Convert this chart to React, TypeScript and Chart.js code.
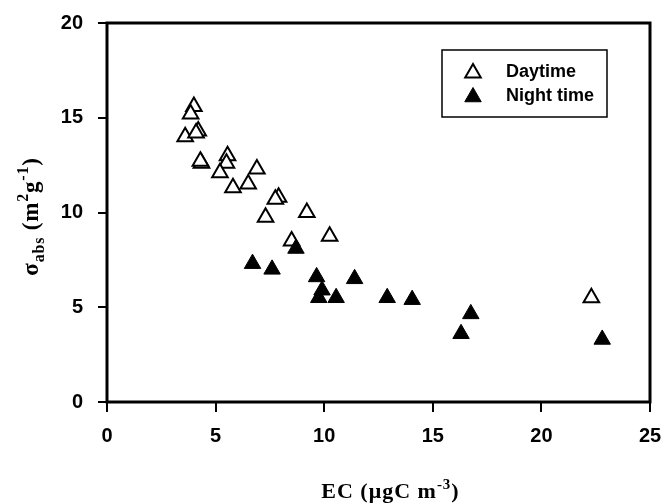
import React, { useEffect, useRef } from 'react';
import { Chart, registerables } from 'chart.js';

Chart.register(...registerables);

// Daytime (open triangles)
const dayEC = [4.0, 3.85, 3.6, 4.2, 4.1, 4.35, 4.3, 5.55, 5.5, 5.2, 6.9, 6.5, 5.8, 7.9, 7.75, 7.3, 9.2, 10.25, 8.5, 22.3];
const dayAbs = [15.6, 15.2, 14.0, 14.3, 14.2, 12.6, 12.7, 13.0, 12.6, 12.1, 12.3, 11.5, 11.3, 10.8, 10.7, 9.75, 10.0, 8.75, 8.5, 5.5];
// Night time (filled triangles)
const nightEC = [6.7, 7.6, 8.7, 9.65, 11.4, 9.9, 9.75, 10.55, 12.9, 14.05, 16.75, 16.3, 22.8];
const nightAbs = [7.3, 7.0, 8.1, 6.6, 6.5, 5.9, 5.5, 5.5, 5.5, 5.4, 4.65, 3.6, 3.3];

const xTicks = [0, 5, 10, 15, 20, 25];
const yTicks = [0, 5, 10, 15, 20];
const legendLabels = ['Daytime', 'Night time'];

type Seg = { t: string; k?: 'sub' | 'sup' };
const xTitle: Seg[] = [{ t: 'EC (μgC m' }, { t: '-3', k: 'sup' }, { t: ')' }];
const yTitle: Seg[] = [{ t: 'σ' }, { t: 'abs', k: 'sub' }, { t: ' (m' }, { t: '2', k: 'sup' }, { t: 'g' }, { t: '-1', k: 'sup' }, { t: ')' }];

const SERIF = '"Liberation Serif", "Times New Roman", serif';
const SANS = '"Liberation Sans", Arial, sans-serif';

function drawRich(ctx: CanvasRenderingContext2D, segs: Seg[], cx: number, baseY: number, size: number, spacing: number) {
  const fontFor = (s: Seg) => `bold ${s.k ? Math.round(size * 0.68) : size}px ${SERIF}`;
  (ctx as any).letterSpacing = `${spacing}px`;
  let total = 0;
  const widths = segs.map((s) => {
    ctx.font = fontFor(s);
    const w = ctx.measureText(s.t).width;
    total += w;
    return w;
  });
  let x = cx - total / 2;
  ctx.textAlign = 'left';
  ctx.textBaseline = 'alphabetic';
  segs.forEach((s, i) => {
    ctx.font = fontFor(s);
    const dy = s.k === 'sub' ? size * 0.28 : s.k === 'sup' ? -size * 0.42 : 0;
    ctx.fillText(s.t, x, baseY + dy);
    x += widths[i];
  });
  (ctx as any).letterSpacing = '0px';
}

function triangle(ctx: CanvasRenderingContext2D, x: number, y: number, r: number) {
  ctx.beginPath();
  for (let i = 0; i < 3; i++) {
    const a = (i * 2 * Math.PI) / 3;
    const px = x + Math.sin(a) * r;
    const py = y - Math.cos(a) * r;
    if (i === 0) ctx.moveTo(px, py);
    else ctx.lineTo(px, py);
  }
  ctx.closePath();
}

const decorPlugin = {
  id: 'decor',
  afterDraw(chart: any) {
    const ctx: CanvasRenderingContext2D = chart.ctx;
    const a = chart.chartArea;
    ctx.save();
    // frame
    ctx.strokeStyle = '#000';
    ctx.lineWidth = 3;
    ctx.strokeRect(a.left, a.top, a.right - a.left, a.bottom - a.top);

    // axis titles
    ctx.fillStyle = '#000';
    drawRich(ctx, xTitle, (a.left + a.right) / 2 + 12, 498, 22, 1);
    ctx.save();
    ctx.translate(38, (a.top + a.bottom) / 2 + 4);
    ctx.rotate(-Math.PI / 2);
    drawRich(ctx, yTitle, 0, 0, 23, 0.8);
    ctx.restore();

    // legend
    const lx = a.left + 335;
    const ly = a.top + 27;
    ctx.lineWidth = 1.5;
    ctx.strokeRect(lx, ly, 165, 67);
    const rows = [ly + 22, ly + 46];
    triangle(ctx, lx + 31, rows[0] + 1, 9);
    ctx.fillStyle = '#fff';
    ctx.fill();
    ctx.lineWidth = 2;
    ctx.strokeStyle = '#000';
    ctx.stroke();
    triangle(ctx, lx + 31, rows[1] + 1, 9.5);
    ctx.fillStyle = '#000';
    ctx.fill();
    ctx.lineWidth = 1;
    ctx.stroke();
    ctx.font = `bold 18px ${SANS}`;
    ctx.textAlign = 'left';
    ctx.textBaseline = 'middle';
    ctx.fillText(legendLabels[0], lx + 64, rows[0]);
    ctx.fillText(legendLabels[1], lx + 64, rows[1]);
    ctx.restore();
  },
};

export default function App() {
  const ref = useRef<HTMLCanvasElement | null>(null);
  useEffect(() => {
    document.body.style.margin = '0';
    const canvas = ref.current;
    if (!canvas) return;
    const chart = new Chart(canvas, {
      type: 'scatter',
      data: {
        datasets: [
          {
            label: legendLabels[1],
            data: nightEC.map((x, i) => ({ x, y: nightAbs[i] })),
            pointStyle: 'triangle',
            pointRadius: 9.5,
            pointBackgroundColor: '#000',
            pointBorderColor: '#000',
            pointBorderWidth: 1,
            order: 0,
          },
          {
            label: legendLabels[0],
            data: dayEC.map((x, i) => ({ x, y: dayAbs[i] })),
            pointStyle: 'triangle',
            pointRadius: 9,
            pointBackgroundColor: '#fff',
            pointBorderColor: '#000',
            pointBorderWidth: 2,
            order: 1,
          },
        ],
      },
      options: {
        responsive: false,
        animation: false,
        devicePixelRatio: 1,
        layout: { padding: { top: 23, right: 14, left: 0, bottom: 0 } },
        plugins: { legend: { display: false }, tooltip: { enabled: false } },
        scales: {
          x: {
            type: 'linear',
            min: xTicks[0],
            max: xTicks[xTicks.length - 1],
            afterBuildTicks: (s: any) => {
              s.ticks = xTicks.map((v) => ({ value: v }));
            },
            afterFit: (s: any) => {
              s.height = 101;
              s.paddingLeft = 0;
              s.paddingRight = 0;
            },
            ticks: {
              color: '#000',
              font: { family: SANS, size: 20, weight: 'bold' },
              padding: 12,
              maxRotation: 0,
            },
            grid: { drawOnChartArea: false, drawTicks: true, tickLength: 10, color: '#000', lineWidth: 2 },
            border: { display: false },
          },
          y: {
            type: 'linear',
            min: yTicks[0],
            max: yTicks[yTicks.length - 1],
            afterBuildTicks: (s: any) => {
              s.ticks = yTicks.map((v) => ({ value: v }));
            },
            afterFit: (s: any) => {
              s.width = 107;
              s.paddingTop = 0;
              s.paddingBottom = 0;
            },
            ticks: {
              color: '#000',
              font: { family: SANS, size: 20, weight: 'bold' },
              padding: 15,
            },
            grid: { drawOnChartArea: false, drawTicks: true, tickLength: 9, color: '#000', lineWidth: 2 },
            border: { display: false },
          },
        },
      },
      plugins: [decorPlugin],
    });
    return () => chart.destroy();
  }, []);
  return (
    <div style={{ width: 664, height: 503 }}>
      <canvas ref={ref} width={664} height={503} style={{ display: 'block' }} />
    </div>
  );
}
